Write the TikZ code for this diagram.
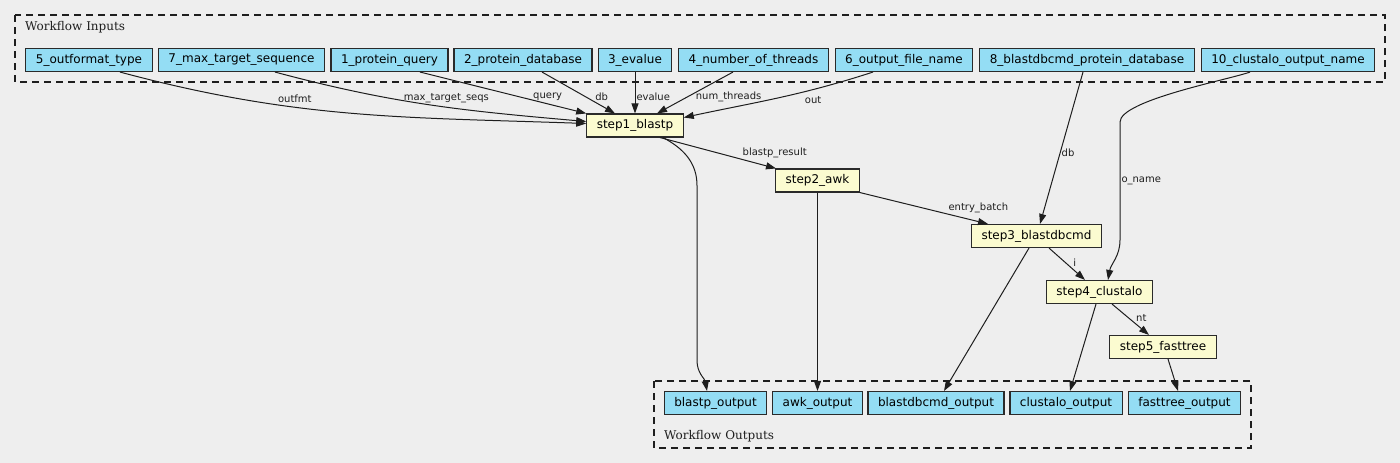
\documentclass[tikz,border=0pt]{standalone}
\usepackage{fontspec}
\setmainfont{DejaVu Sans}
\newfontfamily\grpfont{DejaVu Serif}
\usetikzlibrary{arrows.meta}
\definecolor{bgcol}{HTML}{EEEEEE}
\definecolor{iocol}{HTML}{94DDF4}
\definecolor{stepcol}{HTML}{FBFBD0}
\definecolor{inkcol}{HTML}{1E1E1E}
\definecolor{boxline}{HTML}{2A2A2A}
\tikzset{
  arr/.style={-{Triangle[length=10pt,width=7pt]}, line width=1pt, draw=inkcol},
  iobox/.style={draw=boxline, fill=iocol, line width=1.1pt, inner xsep=10pt,
                inner ysep=0pt, minimum height=23pt,
                font=\fontsize{12}{14}\selectfont},
  stepbox/.style={iobox, fill=stepcol},
  elab/.style={font=\fontsize{10}{12}\selectfont, text=inkcol, inner sep=1pt},
  grp/.style={draw=inkcol, line width=1.1pt, dash pattern=on 7pt off 5pt},
  grplab/.style={font=\grpfont\fontsize{12}{14}\selectfont, text=inkcol,
                 anchor=base west, inner sep=0pt},
}
\begin{document}
\begin{tikzpicture}[x=1pt,y=1pt]
\fill[bgcol] (0,0) rectangle (1400,-463);
\useasboundingbox (0,0) rectangle (1400,-463);

\draw[grp] (15,-15) rectangle (1385,-82);
\draw[grp] (654,-381) rectangle (1251,-448);
\node[grplab] (inlab)  at (25,-30)    {Workflow Inputs};
\node[grplab] (outlab) at (664,-439.5) {Workflow Outputs};

\node[iobox] (fmt)     at (89,   -60) {5\_outformat\_type};
\node[iobox] (maxseq)  at (241.5,-60) {7\_max\_target\_sequence};
\node[iobox] (query)   at (389.5,-60) {1\_protein\_query};
\node[iobox] (protdb)  at (523,  -60) {2\_protein\_database};
\node[iobox] (evalue)  at (635,  -60) {3\_evalue};
\node[iobox] (threads) at (753.5,-60) {4\_number\_of\_threads};
\node[iobox] (outname) at (904,  -60) {6\_output\_file\_name};
\node[iobox] (cmddb)   at (1087, -60) {8\_blastdbcmd\_protein\_database};
\node[iobox] (coname)  at (1288, -60) {10\_clustalo\_output\_name};

\node[stepbox] (blastp)     at (635,   -125.5) {step1\_blastp};
\node[stepbox] (awk)        at (817.5, -180.5) {step2\_awk};
\node[stepbox] (blastdbcmd) at (1036.5,-236)   {step3\_blastdbcmd};
\node[stepbox] (clustalo)   at (1099.5,-292)   {step4\_clustalo};
\node[stepbox] (fasttree)   at (1163,  -347)   {step5\_fasttree};

\node[iobox] (blastpout) at (715.5, -403) {blastp\_output};
\node[iobox] (awkout)    at (817.5, -403) {awk\_output};
\node[iobox] (cmdout)    at (936,   -403) {blastdbcmd\_output};
\node[iobox] (cloout)    at (1066,  -403) {clustalo\_output};
\node[iobox] (treeout)   at (1184.5,-403) {fasttree\_output};

\draw[arr] ([xshift=31pt]fmt.south) to[out=-15,in=178]
  node[elab,pos=0.37,above=3pt] {outfmt} ([yshift=2pt]blastp.west);
\draw[arr] ([xshift=33.5pt]maxseq.south) to[out=-15,in=175]
  node[elab,pos=0.56,above=3pt] {max\_target\_seqs} ([yshift=4pt]blastp.west);
\draw[arr] ([xshift=30.5pt]query.south) -- node[elab,pos=0.6,right=12pt] {query} (blastp.north west);
\draw[arr] ([xshift=19pt]protdb.south) -- node[elab,pos=0.6,right=8pt] {db} ([xshift=-20pt]blastp.north);
\draw[arr] (evalue) -- node[elab,pos=0.6,right] {evalue} (blastp);
\draw[arr] ([xshift=-20.5pt]threads.south) -- node[elab,pos=0.6,right=7pt] {num\_threads} ([xshift=22pt]blastp.north);
\draw[arr] ([xshift=-31pt]outname.south) to[out=-162,in=12]
  node[elab,pos=0.55,right=33pt] {out} ([yshift=8pt]blastp.east);

\draw[arr] ([xshift=25pt]blastp.south) -- node[elab,pos=0.7,above right] {blastp\_result} ([xshift=-41.5pt]awk.north);
\draw[arr] ([xshift=28pt]blastp.south) to[out=-28,in=90] ++(34,-48) -- ++(0,-175)
  to[out=-90,in=100] ([xshift=-8.5pt]blastpout.north);
\draw[arr] (awk) -- (awkout);
\draw[arr] (awk.south east) -- node[elab,pos=0.68,above right] {entry\_batch} ([xshift=-48.5pt]blastdbcmd.north);
\draw[arr] ([xshift=-4pt]cmddb.south) -- node[elab,pos=0.53,right] {db} ([xshift=3.5pt]blastdbcmd.north);
\draw[arr] ([xshift=-38pt]coname.south) to[out=-160,in=90,looseness=0.4] ++(-130,-50)
  -- node[elab,pos=0.5,right] {o\_name} ++(0,-118)
  to[out=-90,in=80] ([xshift=8.5pt]clustalo.north);
\draw[arr] ([xshift=12.5pt]blastdbcmd.south) -- node[elab,pos=0.47,right=6pt] {i} ([xshift=-14.5pt]clustalo.north);
\draw[arr] ([xshift=-7.5pt]blastdbcmd.south) -- ([xshift=8pt]cmdout.north);
\draw[arr] ([xshift=-3.5pt]clustalo.south) -- ([xshift=4pt]cloout.north);
\draw[arr] ([xshift=12.5pt]clustalo.south) -- node[elab,pos=0.45,right=6pt] {nt} ([xshift=-14pt]fasttree.north);
\draw[arr] ([xshift=5pt]fasttree.south) -- ([xshift=-6.5pt]treeout.north);
\end{tikzpicture}
\end{document}
